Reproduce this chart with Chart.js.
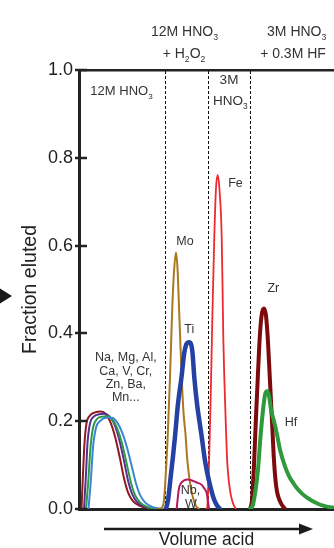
<!DOCTYPE html>
<html><head><meta charset="utf-8">
<script src="https://cdn.jsdelivr.net/npm/chart.js@4.4.1/dist/chart.umd.min.js"></script>
<style>html,body{margin:0;padding:0;background:#fff;}#wrap{width:334px;height:548px;}</style>
</head><body><div id="wrap"><canvas id="c" width="334" height="548"></canvas></div>
<script>
// Volume axis in arbitrary units (0 = start of elution), fraction eluted on y
const yTicks = [0, 0.2, 0.4, 0.6, 0.8, 1.0];
const phaseBreaks = [86.5, 129.5, 171.5];

// Matrix elements (Na, Mg, Al, Ca, V, Cr, Zn, Ba, Mn...) – four overlapping curves
const matrixRed = [[2.5,0],[4,0.08],[5.5,0.15],[7.5,0.195],[11,0.213],[16,0.22],[21,0.222],[26,0.218],[31,0.2],[36,0.165],[41,0.115],[45,0.07],[49,0.038],[54,0.018],[61,0.007],[69,0.002],[79,0]];
const matrixPurple = [[5,0],[7,0.08],[8.5,0.15],[11,0.195],[14.5,0.21],[20,0.216],[25,0.217],[30,0.212],[35,0.195],[40,0.16],[45,0.11],[49,0.065],[53,0.035],[58,0.016],[65,0.006],[73,0.001],[81,0]];
const matrixGreen = [[7,0],[9.5,0.07],[11.5,0.14],[14,0.185],[18,0.205],[23,0.21],[28,0.211],[33,0.205],[38,0.185],[43,0.15],[48,0.1],[52,0.06],[56,0.032],[61,0.015],[68,0.005],[76,0.001],[83,0]];
const matrixBlue = [[9.5,0],[12,0.07],[14,0.14],[17,0.185],[21,0.2],[27,0.208],[33,0.208],[38,0.198],[43,0.175],[48,0.14],[53,0.095],[57,0.058],[61,0.032],[66,0.015],[73,0.005],[81,0.001],[87,0]];
const moCurve = [[78,0],[83,0.003],[85,0.02],[86,0.05],[88.7,0.165],[91,0.3],[93.3,0.46],[95,0.54],[97,0.584],[98.7,0.54],[100,0.46],[101,0.4],[102.7,0.3],[104.5,0.22],[106.7,0.165],[108,0.12],[109.3,0.09],[111,0.06],[113,0.035],[115,0.018],[117,0.007],[120,0]];
const tiCurve = [[87,0],[89,0.02],[92,0.08],[94,0.12],[96,0.165],[99,0.24],[102.5,0.3],[105.3,0.356],[108,0.378],[110,0.38],[112,0.376],[113.5,0.356],[115.3,0.3],[118,0.24],[122.7,0.165],[126,0.11],[128,0.085],[131.5,0.05],[135,0.022],[138,0.008],[141,0]];
const nbwCurve = [[97.7,0],[99,0.03],[100.3,0.05],[102,0.059],[105,0.065],[109,0.067],[113,0.065],[117,0.061],[122.7,0.055],[125.5,0.046],[127.7,0.036],[129.3,0.012],[130,0]];
const feCurve = [[127,0],[128.3,0.005],[129.2,0.05],[130,0.1],[131.7,0.257],[133.5,0.45],[135.3,0.62],[137,0.73],[138.7,0.761],[140.4,0.73],[142.7,0.62],[143.7,0.48],[144.3,0.39],[145.3,0.3],[147,0.18],[148.3,0.105],[150,0.06],[152,0.03],[154.5,0.01],[157,0]];
const zrCurve = [[171,0],[173,0.02],[175,0.1],[177,0.21],[179,0.31],[181,0.4],[183,0.447],[185,0.457],[187,0.44],[189,0.38],[191,0.29],[193,0.2],[195,0.11],[197,0.055],[199,0.03],[202,0.013],[206,0]];
const hfCurve = [[171,0],[174,0.01],[177,0.05],[179,0.09],[181.5,0.165],[184,0.225],[186,0.26],[188,0.268],[190,0.258],[192,0.226],[195,0.2],[198,0.17],[201,0.135],[206,0.097],[210,0.075],[214,0.06],[218,0.047],[223,0.035],[228,0.026],[233,0.019],[239,0.012],[245,0.007],[251,0.004],[255,0.003]];

// Text annotations: parts ([text, isSubscript]), anchor in data units (centre x, baseline y)
const annotations = [
  {t:[['12M HNO'],['3',1]], x:105.5, y:1.078, s:14},
  {t:[['+ H'],['2',1],['O'],['2',1]], x:105, y:1.028, s:14},
  {t:[['3M HNO'],['3',1]], x:217.7, y:1.078, s:14},
  {t:[['+ 0.3M HF']], x:214, y:1.028, s:14},
  {t:[['12M HNO'],['3',1]], x:42.5, y:0.943, s:13},
  {t:[['3M']], x:150, y:0.968, s:13.5},
  {t:[['HNO'],['3',1]], x:151.3, y:0.92, s:13.5},
  {t:[['Mo']], x:106, y:0.601, s:12.5},
  {t:[['Fe']], x:156.5, y:0.733, s:12.5},
  {t:[['Zr']], x:194.3, y:0.495, s:12.5},
  {t:[['Ti']], x:110.2, y:0.402, s:12.5},
  {t:[['Hf']], x:212, y:0.19, s:12.5},
  {t:[['Na, Mg, Al,']], x:46.8, y:0.337, s:12.5},
  {t:[['Ca, V, Cr,']], x:46.8, y:0.306, s:12.5},
  {t:[['Zn, Ba,']], x:46.8, y:0.276, s:12.5},
  {t:[['Mn...']], x:46.8, y:0.247, s:12.5},
  {t:[['Nb,']], x:111.5, y:0.034, s:12.5},
  {t:[['W']], x:112, y:0.003, s:12.5}
];
const volumeArrow = [25, 234];
const sideArrowY = 0.485;

const FAM = "'Liberation Sans', Arial, Helvetica, sans-serif";
Chart.defaults.font.family = FAM;

const toXY = arr => arr.map(p => ({x: p[0], y: p[1]}));
function curve(label, data, color, width, order) {
  return {label, data: toXY(data), borderColor: color, borderWidth: width, pointRadius: 0,
    fill: false, cubicInterpolationMode: 'monotone', order, borderCapStyle: 'round', borderJoinStyle: 'round'};
}
const datasets = [
  curve('Ti', tiCurve, '#2441a3', 4.5, 1),
  curve('Nb, W', nbwCurve, '#b3195c', 2, 2),
  curve('Mo', moCurve, '#a9781f', 2, 3),
  curve('Fe', feCurve, '#ee2a2e', 1.8, 4),
  curve('Hf', hfCurve, '#2f9a3c', 4, 5),
  curve('Zr', zrCurve, '#7d0b0e', 4, 6),
  curve('matrix 4', matrixBlue, '#3a86d4', 2, 7),
  curve('matrix 3', matrixGreen, '#2e9b48', 2, 8),
  curve('matrix 2', matrixPurple, '#56308f', 2, 9),
  curve('matrix 1', matrixRed, '#8e1a20', 2, 10)
];
phaseBreaks.forEach((b, i) => datasets.push({label: 'break' + i, data: [{x: b, y: 0}, {x: b, y: 1}],
  borderColor: '#111', borderWidth: 1, borderDash: [3, 2], pointRadius: 0, fill: false, order: 20 + i}));

function drawRich(ctx, parts, cx, by, size) {
  const sub = size * 0.62;
  let w = 0;
  parts.forEach(p => { ctx.font = (p[1] ? sub : size) + 'px ' + FAM; w += ctx.measureText(p[0]).width; });
  let x = cx - w / 2;
  parts.forEach(p => {
    ctx.font = (p[1] ? sub : size) + 'px ' + FAM;
    ctx.fillText(p[0], x, by + (p[1] ? size * 0.28 : 0));
    x += ctx.measureText(p[0]).width;
  });
}

const overlay = {
  id: 'overlay',
  afterDraw(chart) {
    const {ctx, chartArea: ca, scales: {x, y}} = chart;
    ctx.save();
    // y tick marks crossing the axis
    ctx.strokeStyle = '#222'; ctx.lineWidth = 2.5;
    yTicks.forEach(v => {
      const py = Math.round(y.getPixelForValue(v));
      ctx.beginPath(); ctx.moveTo(ca.left - 4, py); ctx.lineTo(ca.left + 8, py); ctx.stroke();
    });
    // text
    ctx.fillStyle = '#333'; ctx.textAlign = 'left'; ctx.textBaseline = 'alphabetic';
    annotations.forEach(a => drawRich(ctx, a.t, x.getPixelForValue(a.x), y.getPixelForValue(a.y), a.s));
    // volume arrow below x axis
    const ay = ca.bottom + 20;
    const x0 = x.getPixelForValue(volumeArrow[0]), x1 = x.getPixelForValue(volumeArrow[1]);
    ctx.strokeStyle = '#1a1a1a'; ctx.fillStyle = '#1a1a1a'; ctx.lineWidth = 2.5;
    ctx.beginPath(); ctx.moveTo(x0, ay); ctx.lineTo(x1 - 10, ay); ctx.stroke();
    ctx.beginPath(); ctx.moveTo(x1, ay); ctx.lineTo(x1 - 14, ay - 5.5); ctx.lineTo(x1 - 14, ay + 5.5); ctx.closePath(); ctx.fill();
    // side pointer triangle
    const sy = y.getPixelForValue(sideArrowY);
    ctx.beginPath(); ctx.moveTo(12, sy); ctx.lineTo(0, sy - 7.5); ctx.lineTo(0, sy + 7.5); ctx.closePath(); ctx.fill();
    ctx.restore();
  }
};

new Chart(document.getElementById('c'), {
  type: 'line',
  data: {datasets},
  options: {
    responsive: false, animation: false, devicePixelRatio: 1,
    layout: {padding: {top: 70, left: 0, right: 0, bottom: 0}},
    plugins: {legend: {display: false}, tooltip: {enabled: false}},
    scales: {
      x: {type: 'linear', min: 0, max: 255, position: 'bottom',
        grid: {display: false, drawTicks: false}, ticks: {display: false},
        border: {display: true, color: '#222', width: 3},
        title: {display: true, text: 'Volume acid', color: '#222', font: {size: 17.5, lineHeight: 0.85}, padding: 0},
        afterFit: s => { s.height = 39; }},
      x2: {type: 'linear', min: 0, max: 255, position: 'top',
        grid: {display: false, drawTicks: false}, ticks: {display: false},
        border: {display: true, color: '#222', width: 2.5},
        afterFit: s => { s.height = 0; }},
      y: {type: 'linear', min: 0, max: 1, position: 'left',
        grid: {display: false, drawTicks: false},
        border: {display: true, color: '#222', width: 3},
        ticks: {stepSize: 0.2, padding: 6, color: '#222', font: {size: 18}, callback: v => v.toFixed(1)},
        title: {display: true, text: 'Fraction eluted', color: '#222', font: {size: 19.5, lineHeight: 1.2}, padding: {top: 19, bottom: 0}},
        afterFit: s => { s.width = 79; }}
    }
  },
  plugins: [overlay]
});
</script>
</body></html>
